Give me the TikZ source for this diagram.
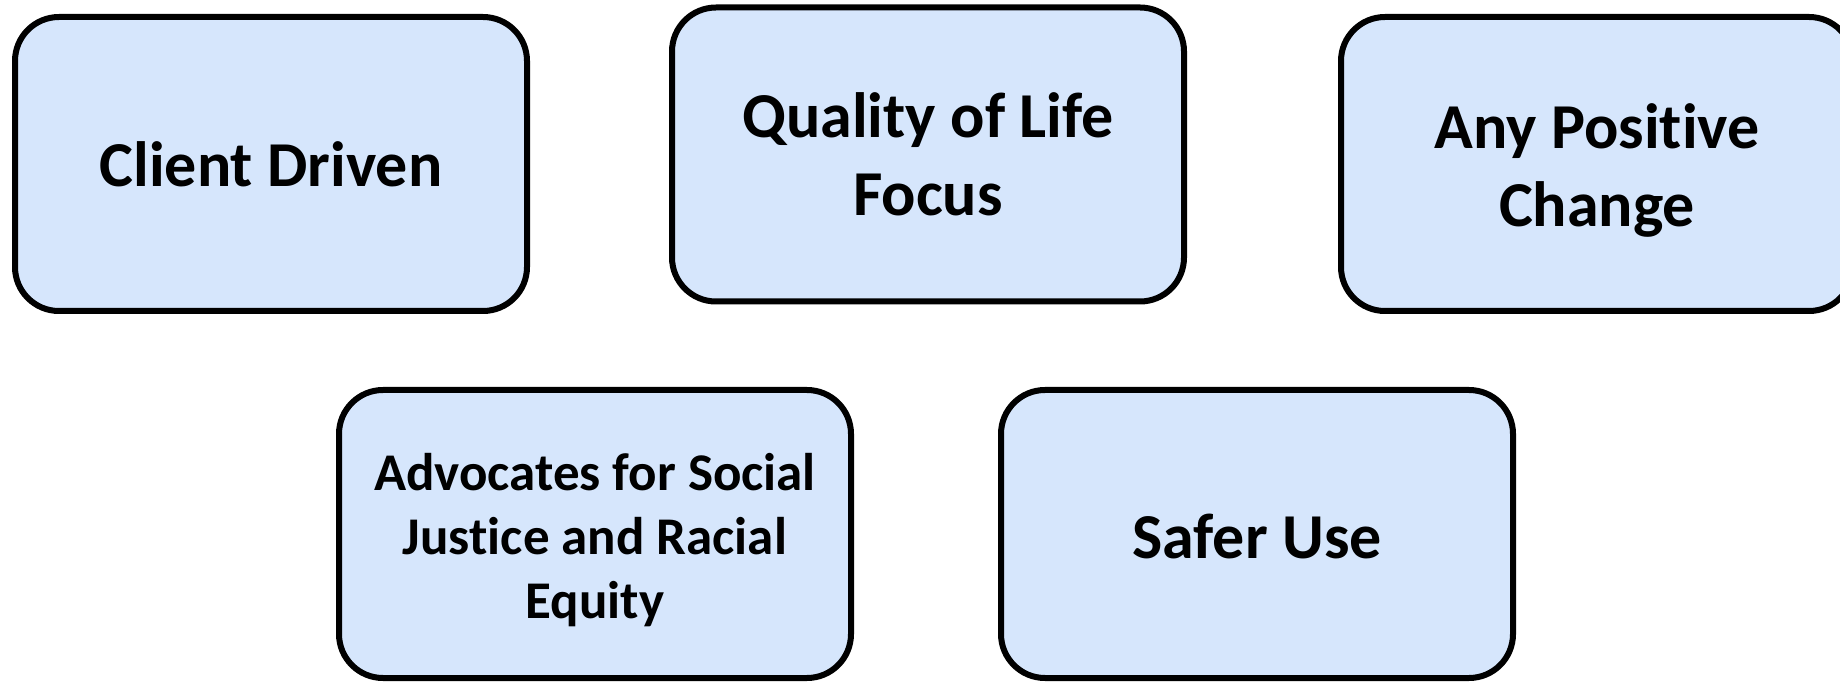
\documentclass[tikz,border=0pt]{standalone}
\usepackage{fontspec}
\setmainfont{Carlito}[Ligatures=NoCommon]
\definecolor{boxfill}{HTML}{D6E6FC}
\begin{document}
\begin{tikzpicture}[x=0.5pt,y=-0.5pt,
  valuebox/.style={draw=black, line width=3pt, fill=boxfill, rounded corners=22pt,
    minimum width=256pt, minimum height=147pt, inner sep=0pt},
  lowbox/.style={valuebox, minimum height=144pt},
  boxtext/.style={align=center, inner sep=0pt,
    font=\fontsize{32pt}{39pt}\selectfont\bfseries},
  smalltext/.style={boxtext, font=\fontsize{26.5pt}{32pt}\selectfont\bfseries}]
  \clip (0,0) rectangle (1840,683);
  \useasboundingbox (0,0) rectangle (1840,683);
  % the five boxes
  \node[valuebox] (client) at (271,164) {};
  \node[valuebox] (quality) at (928,154.5) {};
  \node[valuebox] (change) at (1597,164) {};
  \node[lowbox] (justice) at (595,534) {};
  \node[lowbox] (safer) at (1257,534) {};
  % their captions
  \node[boxtext] (clientText) at (client.center) {Client Driven};
  \node[boxtext] (qualityText) at (quality.center) {Quality of Life\\Focus};
  \node[boxtext] (changeText) at ([yshift=-3pt]change.center) {Any Positive\\Change};
  \node[smalltext] (justiceText) at ([yshift=-3pt]justice.center) {Advocates for Social\\Justice and Racial\\Equity};
  \node[boxtext] (saferText) at ([yshift=-1pt]safer.center) {Safer Use};
\end{tikzpicture}
\end{document}
